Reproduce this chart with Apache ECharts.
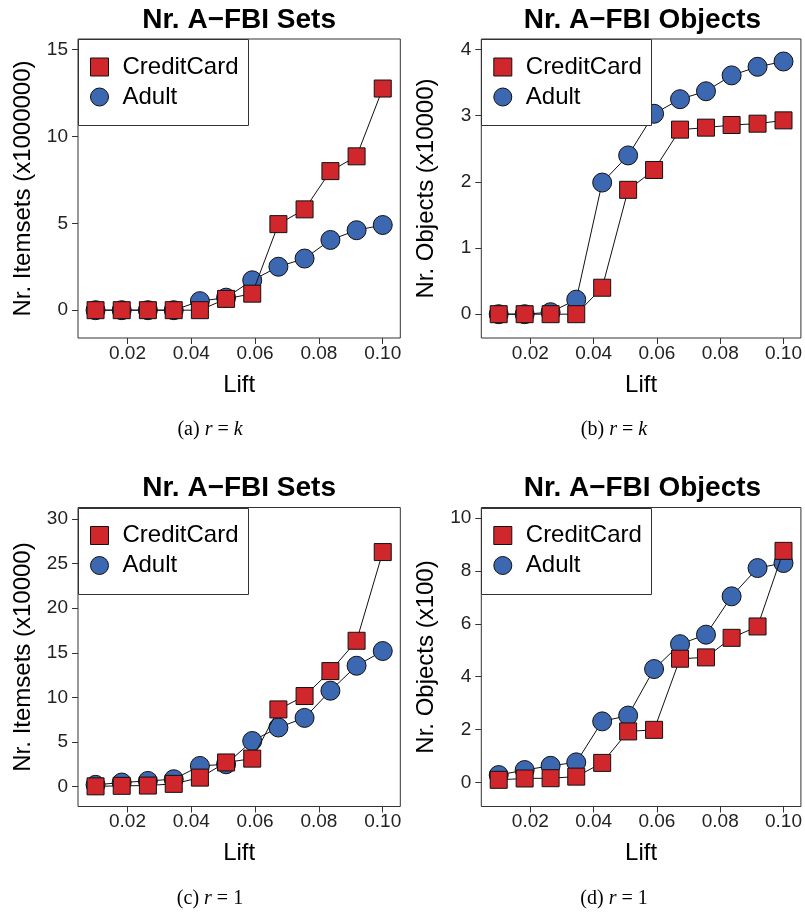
<!DOCTYPE html>
<html><head><meta charset="utf-8">
<script src="https://cdn.jsdelivr.net/npm/echarts@6/dist/echarts.min.js"></script>
<style>html,body{margin:0;padding:0;background:#fff}#c{width:805px;height:913px}</style>
</head><body><div id="c"></div>
<script>
// Shared x values (Lift) and x tick labels
const lifts = [0.0100, 0.0182, 0.0264, 0.0345, 0.0427, 0.0509, 0.0591, 0.0673, 0.0755, 0.0836, 0.0918, 0.1000];
const xTicks = [0.02, 0.04, 0.06, 0.08, 0.10];

// (a) r = k : Nr. Itemsets (x1000000)
const setsK_credit = [0, 0, 0, 0, 0, 0.65, 0.95, 4.95, 5.8, 8.0, 8.85, 12.75];
const setsK_adult  = [0, 0, 0, 0, 0.52, 0.72, 1.72, 2.5, 2.97, 4.04, 4.6, 4.9];
const setsK_ticks  = [0, 5, 10, 15];

// (b) r = k : Nr. Objects (x10000)
const objK_credit = [0, 0, 0, 0, 0.4, 1.88, 2.18, 2.79, 2.82, 2.86, 2.88, 2.93];
const objK_adult  = [0, 0, 0.03, 0.22, 1.99, 2.4, 3.03, 3.25, 3.37, 3.61, 3.74, 3.82];
const objK_ticks  = [0, 1, 2, 3, 4];

// (c) r = 1 : Nr. Itemsets (x10000)
const sets1_credit = [0.02, 0.08, 0.11, 0.3, 1.0, 2.7, 3.13, 8.65, 10.15, 12.95, 16.35, 26.3];
const sets1_adult  = [0.19, 0.45, 0.63, 0.82, 2.31, 2.5, 5.11, 6.62, 7.7, 10.75, 13.55, 15.2];
const sets1_ticks  = [0, 5, 10, 15, 20, 25, 30];

// (d) r = 1 : Nr. Objects (x100)
const obj1_credit = [0.1, 0.15, 0.16, 0.22, 0.74, 1.93, 1.99, 4.68, 4.73, 5.47, 5.9, 8.76];
const obj1_adult  = [0.28, 0.47, 0.63, 0.76, 2.31, 2.53, 4.29, 5.23, 5.59, 7.04, 8.11, 8.3];
const obj1_ticks  = [0, 2, 4, 6, 8, 10];

const seriesNames = ['CreditCard', 'Adult'];
const titles = ['Nr. A\u2212FBI Sets', 'Nr. A\u2212FBI Objects', 'Nr. A\u2212FBI Sets', 'Nr. A\u2212FBI Objects'];
const yNames = ['Nr. Itemsets (x1000000)', 'Nr. Objects (x10000)', 'Nr. Itemsets (x10000)', 'Nr. Objects (x100)'];
const captions = ['(a) {i|r} = {i|k}', '(b) {i|r} = {i|k}', '(c) {i|r} = 1', '(d) {i|r} = 1'];

const RED = '#D0272D', BLUE = '#3C68B2', AX = '#333';
const SANS = 'Liberation Sans', SERIF = 'Liberation Serif';

const panels = [
  {credit: setsK_credit, adult: setsK_adult, ticks: setsK_ticks, min: -1.6, max: 15.6, left: 78, top: 39},
  {credit: objK_credit, adult: objK_adult, ticks: objK_ticks, min: -0.36, max: 4.16, left: 481.3, top: 39},
  {credit: sets1_credit, adult: sets1_adult, ticks: sets1_ticks, min: -2.24, max: 31.3, left: 78, top: 507.5},
  {credit: obj1_credit, adult: obj1_adult, ticks: obj1_ticks, min: -0.91, max: 10.4, left: 481.3, top: 507.5}
];
const W = 322.3, H = 299;

const grid = [], xAxis = [], yAxis = [], series = [], legend = [], title = [], gElems = [];
panels.forEach((p, i) => {
  grid.push({left: p.left, top: p.top, width: W, height: H, show: true, borderColor: AX, borderWidth: 1, backgroundColor: 'transparent'});
  xAxis.push({
    type: 'value', gridIndex: i, min: 0.0045, max: 0.1055,
    name: 'Lift', nameLocation: 'middle', nameGap: 47,
    nameTextStyle: {fontFamily: SANS, fontSize: 24, color: '#000', verticalAlign: 'middle'},
    axisLine: {show: false, onZero: false},
    axisTick: {show: true, inside: false, length: 6, lineStyle: {color: AX}, customValues: xTicks},
    axisLabel: {customValues: xTicks, formatter: v => v.toFixed(2), fontFamily: SANS, fontSize: 19, color: '#222', margin: 6},
    splitLine: {show: false}
  });
  yAxis.push({
    type: 'value', gridIndex: i, min: p.min, max: p.max,
    name: yNames[i], nameLocation: 'middle', nameGap: 55,
    nameTextStyle: {fontFamily: SANS, fontSize: 24, color: '#000', verticalAlign: 'middle'},
    axisLine: {show: false, onZero: false},
    axisTick: {show: true, inside: false, length: 6, lineStyle: {color: AX}, customValues: p.ticks},
    axisLabel: {customValues: p.ticks, fontFamily: SANS, fontSize: 19, color: '#222', margin: 10},
    splitLine: {show: false}
  });
  series.push({
    name: 'Adult', type: 'line', xAxisIndex: i, yAxisIndex: i, z: 2,
    data: lifts.map((x, k) => [x, p.adult[k]]),
    symbol: 'circle', symbolSize: 19,
    itemStyle: {color: BLUE, borderColor: '#111', borderWidth: 1},
    lineStyle: {color: '#111', width: 1}, emphasis: {disabled: true}, animation: false
  });
  series.push({
    name: 'CreditCard', type: 'line', xAxisIndex: i, yAxisIndex: i, z: 3,
    data: lifts.map((x, k) => [x, p.credit[k]]),
    symbol: 'rect', symbolSize: 17,
    itemStyle: {color: RED, borderColor: '#111', borderWidth: 1},
    lineStyle: {color: '#111', width: 1}, emphasis: {disabled: true}, animation: false
  });
  // legend box
  gElems.push({type: 'rect', z: 10, shape: {x: Math.round(p.left) + 0.5, y: Math.round(p.top) + 0.5, width: 170, height: 86},
    style: {fill: '#fff', stroke: AX, lineWidth: 1}});
  legend.push({
    left: p.left, top: p.top, orient: 'vertical', z: 20,
    padding: [16, 5, 16, 12], itemGap: 6, itemWidth: 18, itemHeight: 18,
    selectedMode: false,
    textStyle: {fontFamily: SANS, fontSize: 24, lineHeight: 24, color: '#000', padding: [0, 0, 0, 9]},
    data: [
      {name: 'CreditCard', icon: 'rect', itemStyle: {color: RED, borderColor: '#111', borderWidth: 1}},
      {name: 'Adult', icon: 'circle', itemStyle: {color: BLUE, borderColor: '#111', borderWidth: 1}}
    ]
  });
  const cx = p.left + W / 2;
  title.push({
    text: titles[i], left: cx, top: p.top - 19, textAlign: 'center', textVerticalAlign: 'middle', padding: 0,
    textStyle: {fontFamily: SANS, fontSize: 28, fontWeight: 'bold', color: '#000'}
  });
  title.push({
    text: captions[i], left: (i % 2 === 0 ? 210 : 614), top: p.top + 391, textAlign: 'center', textVerticalAlign: 'middle', padding: 0,
    textStyle: {fontFamily: SERIF, fontSize: 20, fontWeight: 'normal', color: '#000',
      rich: {i: {fontFamily: SERIF, fontSize: 20, fontStyle: 'italic', color: '#000'}}}
  });
});

const chart = echarts.init(document.getElementById('c'), null, {renderer: 'canvas'});
chart.setOption({
  animation: false,
  backgroundColor: '#fff',
  title, grid, xAxis, yAxis, series, legend,
  graphic: {elements: gElems}
});
</script>
</body></html>
